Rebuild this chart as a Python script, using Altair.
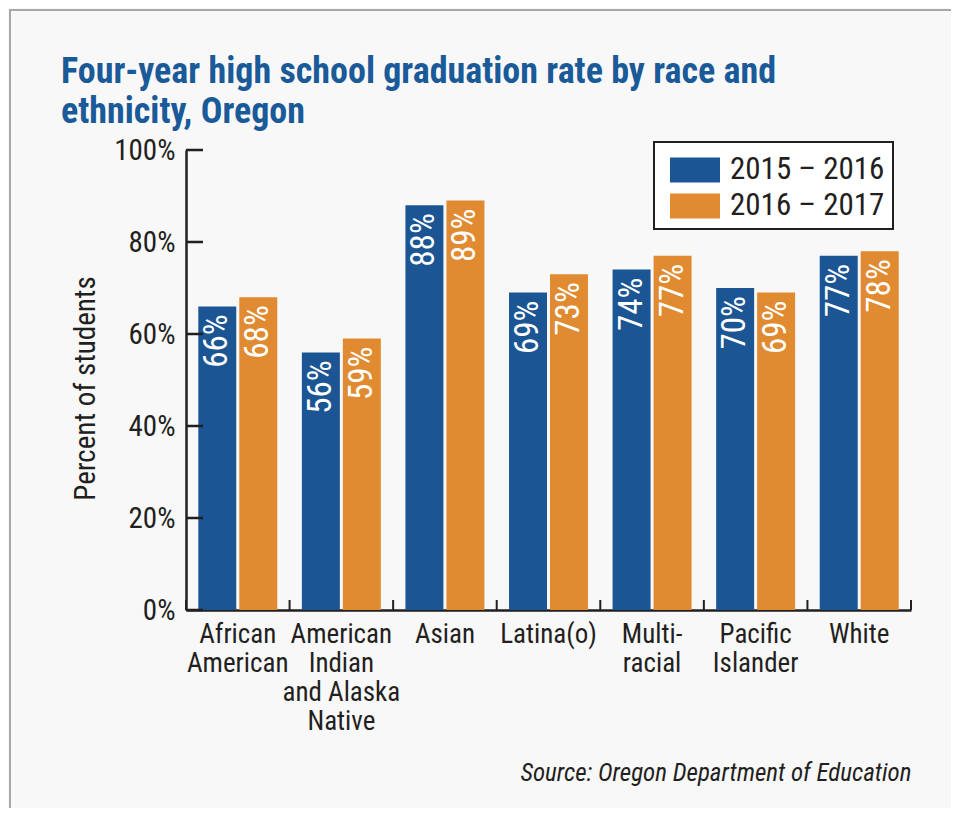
import altair as alt
import pandas as pd

# ---- data ----
categories = ["African|American", "American|Indian|and Alaska|Native", "Asian", "Latina(o)",
              "Multi-|racial", "Pacific|Islander", "White"]
series = ["2015 – 2016", "2016 – 2017"]
rate_2015_2016 = [66, 56, 88, 69, 74, 70, 77]
rate_2016_2017 = [68, 59, 89, 73, 77, 69, 78]
y_ticks = [0, 20, 40, 60, 80, 100]
title_text = "Four-year high school graduation rate by race and\nethnicity, Oregon"
source_text = "Source: Oregon Department of Education"

rows = []
for c, a, b in zip(categories, rate_2015_2016, rate_2016_2017):
    rows.append({"cat": c, "series": series[0], "value": a, "label": f"{a}%"})
    rows.append({"cat": c, "series": series[1], "value": b, "label": f"{b}%"})
df = pd.DataFrame(rows)

# ---- style ----
FONT = "'Liberation Sans Narrow', 'Roboto Condensed', 'DejaVu Sans Condensed', sans-serif"
BLUE = "#1c5593"
ORANGE = "#e08b31"
TITLE_BLUE = "#1a5a98"
DARK = "#231f20"
W, H = 725, 460

x_enc = alt.X("cat:N", sort=categories,
              scale=alt.Scale(paddingInner=0, paddingOuter=0),
              axis=alt.Axis(labelExpr="split(datum.value, '|')", labelAngle=0, labelFontSize=27,
                            labelLineHeight=29, labelPadding=11, ticks=False,
                            domainColor=DARK, domainWidth=2.5, labelColor=DARK, labelFont=FONT,
                            title=source_text,
                            titleFontStyle="italic", titleFontWeight="normal", titleFontSize=25,
                            titleFont=FONT, titleColor=DARK, titleX=W, titleY=162,
                            titleAlign="right", titleBaseline="middle", titleAnchor="end"))
xoff = alt.XOffset("series:N", sort=series,
                   scale=alt.Scale(paddingInner=0.0732, paddingOuter=0.3))
y_enc = alt.Y("value:Q", scale=alt.Scale(domain=[0, 100], nice=False),
              axis=alt.Axis(values=y_ticks, labelExpr="datum.value + '%'", ticks=False, grid=False,
                            domainColor=DARK, domainWidth=2.5, labelPadding=11, labelFontSize=29,
                            labelFont=FONT, labelColor=DARK,
                            title="Percent of students", titleFontSize=29, titleFont=FONT,
                            titleFontWeight="normal", titleColor=DARK, titleX=-101, titleY=238,
                            titleAngle=270, titleBaseline="middle", titleAlign="center"))

bars = alt.Chart(df).mark_bar().encode(
    x=x_enc, xOffset=xoff, y=y_enc,
    color=alt.Color("series:N", sort=series,
                    scale=alt.Scale(domain=series, range=[BLUE, ORANGE]),
                    legend=alt.Legend(title=None, orient="none", legendX=468, legendY=-8,
                                      direction="vertical", fillColor="white", strokeColor=DARK,
                                      padding=8, symbolType="M-1.25,-0.625H1.25V0.625H-1.25Z",
                                      symbolSize=1600, symbolOffset=13, labelOffset=15,
                                      labelFontSize=31, labelFont=FONT, labelColor=DARK,
                                      rowPadding=1, symbolStrokeWidth=0, symbolOpacity=1)),
)

labels = alt.Chart(df).mark_text(angle=270, align="right", baseline="middle", dx=-8,
                                 color="white", fontSize=33, font=FONT).encode(
    x=alt.X("cat:N", sort=categories), xOffset=alt.XOffset("series:N", sort=series),
    y="value:Q", text="label:N")

ytick_rules = alt.Chart(pd.DataFrame({"value": y_ticks})).mark_rule(
    color=DARK, strokeWidth=2.5).encode(y="value:Q", x=alt.value(0), x2=alt.value(17))

xtick_rules = alt.Chart(pd.DataFrame({"cat": categories})).mark_rule(
    color=DARK, strokeWidth=2).encode(x=alt.X("cat:N", sort=categories, bandPosition=0),
                                      y=alt.value(H), y2=alt.value(H - 10))
xtick_last = alt.Chart(pd.DataFrame({"cat": categories[-1:]})).mark_rule(
    color=DARK, strokeWidth=2).encode(x=alt.X("cat:N", sort=categories, bandPosition=1),
                                      y=alt.value(H), y2=alt.value(H - 10))

one = pd.DataFrame({"t": [title_text]})
border_left = alt.Chart(one).mark_rule(color="#a8a8a8", strokeWidth=2).encode(
    x=alt.value(-176), y=alt.value(-141), y2=alt.value(H + 220))
border_top = alt.Chart(one).mark_rule(color="#a8a8a8", strokeWidth=2).encode(
    y=alt.value(-140), x=alt.value(-177), x2=alt.value(W + 60))

title = alt.Chart(one).mark_text(align="left", baseline="alphabetic", lineBreak="\n",
                                 lineHeight=40, fontSize=36, font=FONT, fontWeight="bold",
                                 color=TITLE_BLUE).encode(
    text="t:N", x=alt.value(-125), y=alt.value(-67))

chart = alt.layer(border_left, border_top, title, bars, labels, ytick_rules, xtick_rules,
                  xtick_last).properties(
    width=W, height=H,
    autosize=alt.AutoSizeParams(type="none"),
    padding={"left": 178, "top": 142, "right": 40, "bottom": 198},
    background="#f8f8f8",
).configure_view(stroke=None).configure_legend(strokeWidth=2)

chart.save("out.html", embed_options={"renderer": "svg", "actions": False})
